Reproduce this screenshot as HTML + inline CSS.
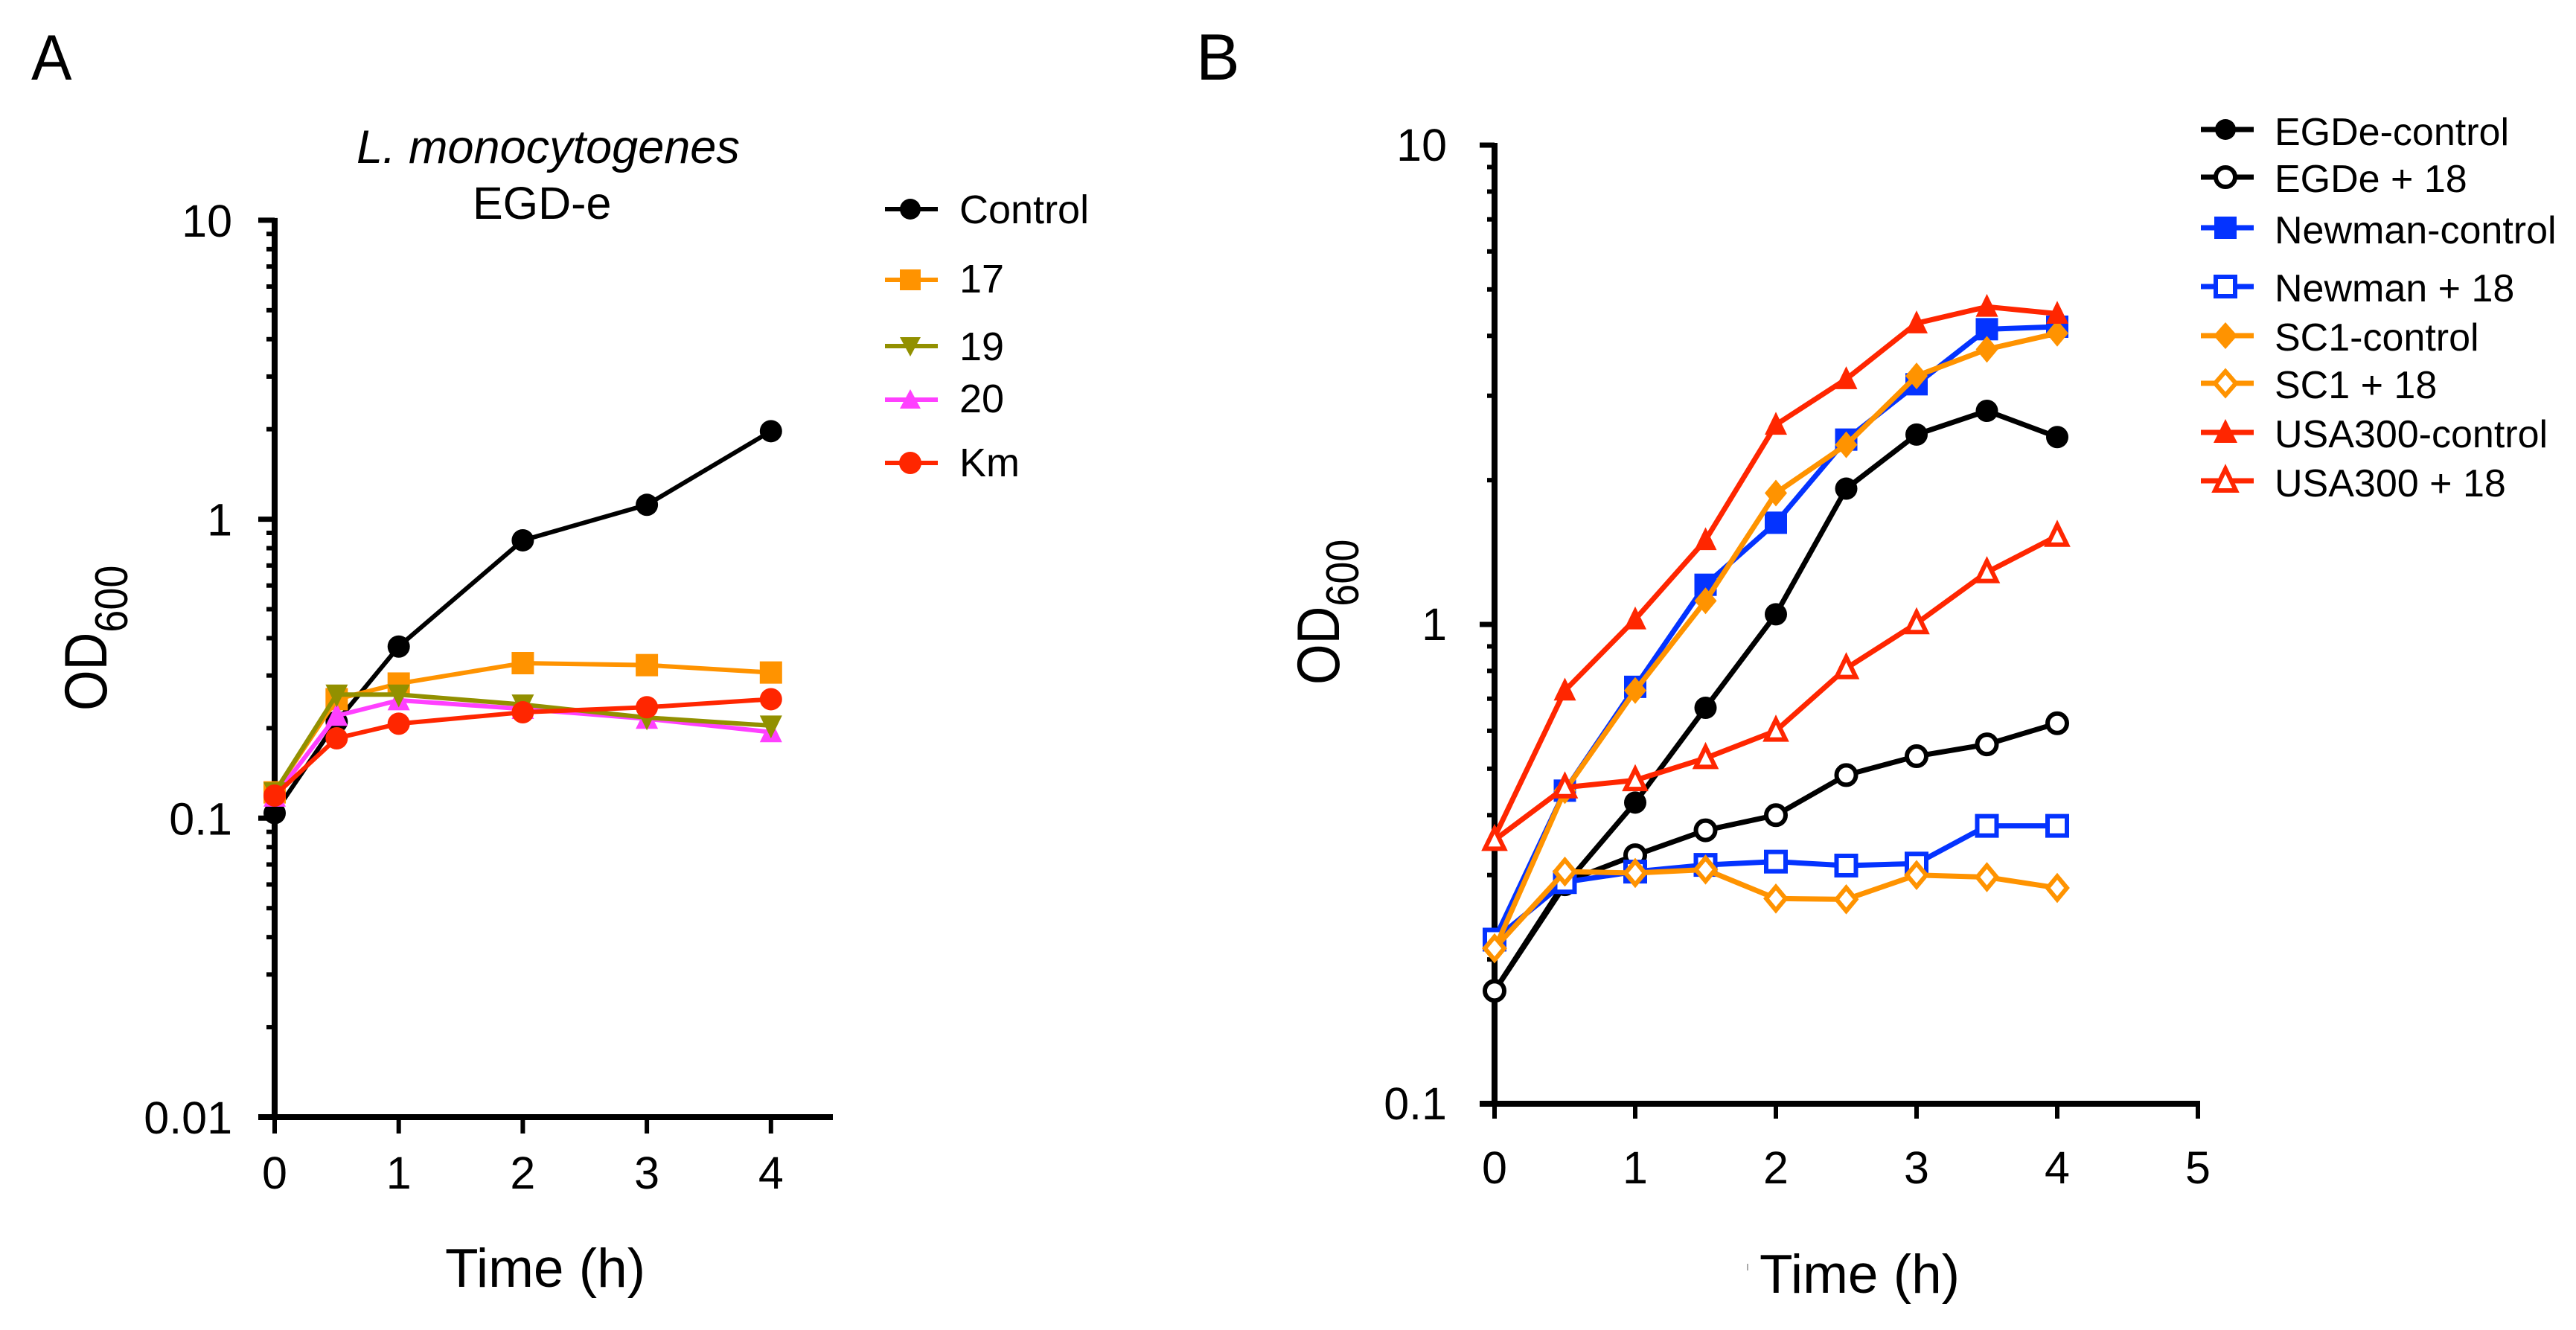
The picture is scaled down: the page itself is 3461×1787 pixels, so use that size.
<!DOCTYPE html>
<html lang="en">
<head>
<meta charset="utf-8">
<title>Growth curves of bacterial strains</title>
<style>
html,body{margin:0;padding:0;background:#fff;}
svg{display:block;font-family:"Liberation Sans",sans-serif;fill:#000;}
</style>
</head>
<body>
<svg id="figure" xmlns="http://www.w3.org/2000/svg" width="3461" height="1787" viewBox="0 0 3461 1787">
  <rect width="3461" height="1787" fill="#fff"/>

  <text x="42" y="107" font-size="86" transform="translate(42,0) scale(0.95,1) translate(-42,0)">A</text>
  <text x="1607" y="107" font-size="88">B</text>

  <g id="panelA"></g>
  <g id="panelB"></g>

  <text x="479" y="219" font-size="63" font-style="italic">L. monocytogenes</text>
  <text x="635" y="294" font-size="61">EGD-e</text>

  <g transform="translate(143,955) rotate(-90) scale(0.9,1.03)">
    <text font-size="78">OD<tspan font-size="60" dy="27">600</tspan></text>
  </g>
  <g transform="translate(1799,920) rotate(-90) scale(0.9,1.03)">
    <text font-size="78">OD<tspan font-size="60" dy="25">600</tspan></text>
  </g>

  <text x="598" y="1729" font-size="73">Time (h)</text>
  <text x="2364" y="1737" font-size="73">Time (h)</text>
  <rect x="2347" y="1698" width="2" height="9" fill="#aaa"/>

  <g font-size="54">
    <g transform="translate(1223,281)">
      <line x1="-34" x2="37" stroke="#000" stroke-width="6"/><circle r="14" fill="#000"/>
      <text x="66" y="19">Control</text>
    </g>
    <g transform="translate(1223,376)">
      <line x1="-34" x2="37" stroke="#FF9300" stroke-width="6"/><rect x="-14" y="-14" width="28" height="28" fill="#FF9300"/>
      <text x="66" y="17" fill="#000">17</text>
    </g>
    <g transform="translate(1223,465)">
      <line x1="-34" x2="37" stroke="#929000" stroke-width="6"/><polygon points="-14,-12 14,-12 0,14" fill="#929000"/>
      <text x="66" y="19">19</text>
    </g>
    <g transform="translate(1223,537)">
      <line x1="-34" x2="37" stroke="#FF40FF" stroke-width="6"/><polygon points="-14,12 14,12 0,-14" fill="#FF40FF"/>
      <text x="66" y="17">20</text>
    </g>
    <g transform="translate(1223,622)">
      <line x1="-34" x2="37" stroke="#FF2600" stroke-width="6"/><circle r="15" fill="#FF2600"/>
      <text x="66" y="18">Km</text>
    </g>
  </g>

  <g font-size="52">
    <g transform="translate(2990,174)">
      <line x1="-33" x2="38" stroke="#000" stroke-width="7"/><circle r="14" fill="#000"/>
      <text x="66" y="21">EGDe-control</text>
    </g>
    <g transform="translate(2990,238)">
      <line x1="-33" x2="38" stroke="#000" stroke-width="7"/><circle r="13" fill="#fff" stroke="#000" stroke-width="6"/>
      <text x="66" y="20">EGDe + 18</text>
    </g>
    <g transform="translate(2990,306)">
      <line x1="-33" x2="38" stroke="#0433FF" stroke-width="7"/><rect x="-15" y="-15" width="30" height="30" fill="#0433FF"/>
      <text x="66" y="21">Newman-control</text>
    </g>
    <g transform="translate(2990,385)">
      <line x1="-33" x2="38" stroke="#0433FF" stroke-width="7"/><rect x="-13" y="-13" width="26" height="26" fill="#fff" stroke="#0433FF" stroke-width="6"/>
      <text x="66" y="20">Newman + 18</text>
    </g>
    <g transform="translate(2990,451)">
      <line x1="-33" x2="38" stroke="#FF9300" stroke-width="7"/><polygon points="0,-18 16,0 0,18 -16,0" fill="#FF9300"/>
      <text x="66" y="20">SC1-control</text>
    </g>
    <g transform="translate(2990,515)">
      <line x1="-33" x2="38" stroke="#FF9300" stroke-width="7"/><polygon points="0,-16 14,0 0,16 -14,0" fill="#fff" stroke="#FF9300" stroke-width="6"/>
      <text x="66" y="20">SC1 + 18</text>
    </g>
    <g transform="translate(2990,581)">
      <line x1="-33" x2="38" stroke="#FF2600" stroke-width="7"/><polygon points="-16,14 16,14 0,-18" fill="#FF2600"/>
      <text x="66" y="20">USA300-control</text>
    </g>
    <g transform="translate(2990,646)">
      <line x1="-33" x2="38" stroke="#FF2600" stroke-width="7"/><polygon points="-14,13 14,13 0,-16" fill="#fff" stroke="#FF2600" stroke-width="6"/>
      <text x="66" y="21">USA300 + 18</text>
    </g>
  </g>
</svg>

<script>
// Panel A data
const timesA = [0, 0.5, 1, 2, 3, 4];
const controlA = [0.104, 0.21, 0.375, 0.85, 1.117, 1.97];
const compound17 = [0.122, 0.25, 0.282, 0.33, 0.325, 0.307];
const compound19 = [0.122, 0.259, 0.259, 0.24, 0.217, 0.204];
const compound20 = [0.118, 0.22, 0.248, 0.232, 0.215, 0.194];
const kanamycin = [0.119, 0.185, 0.207, 0.226, 0.235, 0.25];
const xTicksA = [0, 1, 2, 3, 4];
const yTicksA = [10, 1, 0.1, 0.01];

// Panel B data
const timesB = [0, 0.5, 1, 1.5, 2, 2.5, 3, 3.5, 4];
const egdeControl = [0.172, 0.286, 0.425, 0.67, 1.05, 1.92, 2.49, 2.79, 2.46];
const egdePlus18 = [0.172, 0.29, 0.33, 0.372, 0.4, 0.485, 0.531, 0.562, 0.622];
const newmanControl = [0.22, 0.45, 0.741, 1.21, 1.63, 2.43, 3.17, 4.13, 4.18];
const newmanPlus18 = [0.22, 0.29, 0.305, 0.315, 0.32, 0.314, 0.317, 0.38, 0.38];
const sc1Control = [0.21, 0.45, 0.728, 1.12, 1.88, 2.37, 3.3, 3.75, 4.05];
const sc1Plus18 = [0.211, 0.305, 0.303, 0.308, 0.268, 0.267, 0.3, 0.297, 0.282];
const usaControl = [0.36, 0.728, 1.025, 1.5, 2.61, 3.25, 4.25, 4.6, 4.45];
const usaPlus18 = [0.355, 0.457, 0.473, 0.526, 0.6, 0.81, 1.005, 1.285, 1.53];
const xTicksB = [0, 1, 2, 3, 4, 5];
const yTicksB = [10, 1, 0.1];

const minorFactors = [2, 3, 4, 5, 6, 7, 8, 9];

const NS = 'http://www.w3.org/2000/svg';
function make(parent, tag, attrs, text) {
  const el = document.createElementNS(NS, tag);
  for (const k in attrs) el.setAttribute(k, attrs[k]);
  if (text !== undefined) el.textContent = text;
  parent.appendChild(el);
  return el;
}

function drawMarker(parent, shape, open, color, x, y, sw, size) {
  const fill = open ? '#fff' : color;
  const stroke = open ? color : 'none';
  const s = open ? size - 2 : size;
  const common = { fill: fill, stroke: stroke, 'stroke-width': open ? sw : 0 };
  let el;
  if (shape === 'circle') {
    el = make(parent, 'circle', Object.assign({ cx: x, cy: y, r: s }, common));
  } else if (shape === 'square') {
    el = make(parent, 'rect', Object.assign({ x: x - s, y: y - s, width: 2 * s, height: 2 * s }, common));
  } else if (shape === 'up') {
    el = make(parent, 'polygon', Object.assign({ points: [x - s, y + s * 0.9, x + s, y + s * 0.9, x, y - s * 1.15].join(' ') }, common));
  } else if (shape === 'down') {
    el = make(parent, 'polygon', Object.assign({ points: [x - s, y - s * 0.9, x + s, y - s * 0.9, x, y + s * 1.15].join(' ') }, common));
  } else {
    el = make(parent, 'polygon', Object.assign({ points: [x, y - s * 1.2, x + s, y, x, y + s * 1.2, x - s, y].join(' ') }, common));
  }
  return el;
}

function drawPanel(cfg) {
  const root = document.getElementById(cfg.id);
  const xScale = cfg.xScale, yScale = cfg.yScale;
  const xAxisY = yScale(cfg.yMin);
  const axisX = xScale(0);

  // y axis line
  const yLine = make(root, 'line', { x1: axisX, x2: axisX, y1: yScale(cfg.yMax) - 3, y2: xAxisY + 3, stroke: '#000', 'stroke-width': 8 });
  
  

  // x axis line
  const xLine = make(root, 'line', { x1: axisX - cfg.majorLen, x2: cfg.xAxisEnd, y1: xAxisY, y2: xAxisY, stroke: '#000', 'stroke-width': 8 });
  
  

  // y ticks and labels
  cfg.yTicks.forEach(function (v) {
    const y = yScale(v);
    const tick = make(root, 'line', { x1: axisX - cfg.majorLen, x2: axisX, y1: y, y2: y, stroke: '#000', 'stroke-width': 7 });
    
    
    const label = make(root, 'text', { x: cfg.yLabelX, y: y + cfg.yLabelDy, 'font-size': 61, 'text-anchor': 'end' }, String(v));
    
    
    if (v > cfg.yMin) {
      minorFactors.forEach(function (f) {
        const my = yScale(v / 10 * f);
        if (v / 10 * f >= cfg.yMin) {
          const mt = make(root, 'line', { x1: axisX - cfg.minorLen, x2: axisX, y1: my, y2: my, stroke: '#000', 'stroke-width': 6 });
          
          
        }
      });
    }
  });

  // x ticks and labels
  cfg.xTicks.forEach(function (t) {
    const x = xScale(t);
    const tick = make(root, 'line', { x1: x, x2: x, y1: xAxisY, y2: xAxisY + cfg.majorLen, stroke: '#000', 'stroke-width': 6 });
    
    
    const label = make(root, 'text', { x: x, y: cfg.xLabelY, 'font-size': 61, 'text-anchor': 'middle' }, String(t));
    
    
  });

  // series
  cfg.series.forEach(function (s) {
    const g = make(root, 'g', {});
    
    
    const pts = s.values.map(function (v, i) { return xScale(cfg.times[i]) + ',' + yScale(v); }).join(' ');
    const line = make(g, 'polyline', { points: pts, fill: 'none', stroke: s.color, 'stroke-width': cfg.lineWidth, 'stroke-linejoin': 'round' });
    
    
    s.values.forEach(function (v, i) {
      const m = drawMarker(g, s.shape, s.open, s.color, xScale(cfg.times[i]), yScale(v), 6, cfg.markerSize);
      
      
    });
  });
}

drawPanel({
  id: 'panelA',
  times: timesA,
  xTicks: xTicksA,
  yTicks: yTicksA,
  yMin: 0.01,
  yMax: 10,
  xScale: function (t) { return 369 + t * 166.7; },
  yScale: function (v) { return 1501 - (Math.log10(v) + 2) * 401.7; },
  xAxisEnd: 1119,
  majorLen: 22,
  minorLen: 11,
  yLabelX: 312,
  yLabelDy: 22,
  xLabelY: 1597,
  lineWidth: 6,
  markerSize: 15,
  series: [
    { name: 'control', values: controlA, color: '#000000', shape: 'circle', open: false },
    { name: 'compound-17', values: compound17, color: '#FF9300', shape: 'square', open: false },
    { name: 'compound-20', values: compound20, color: '#FF40FF', shape: 'up', open: false },
    { name: 'compound-19', values: compound19, color: '#929000', shape: 'down', open: false },
    { name: 'km', values: kanamycin, color: '#FF2600', shape: 'circle', open: false }
  ]
});

drawPanel({
  id: 'panelB',
  times: timesB,
  xTicks: xTicksB,
  yTicks: yTicksB,
  yMin: 0.1,
  yMax: 10,
  xScale: function (t) { return 2008 + t * 189; },
  yScale: function (v) { return 1483 - (Math.log10(v) + 1) * 644; },
  xAxisEnd: 2956,
  majorLen: 20,
  minorLen: 10,
  yLabelX: 1944,
  yLabelDy: 21,
  xLabelY: 1590,
  lineWidth: 7,
  markerSize: 15,
  series: [
    { name: 'egde-control', values: egdeControl, color: '#000000', shape: 'circle', open: false },
    { name: 'egde-18', values: egdePlus18, color: '#000000', shape: 'circle', open: true },
    { name: 'newman-control', values: newmanControl, color: '#0433FF', shape: 'square', open: false },
    { name: 'newman-18', values: newmanPlus18, color: '#0433FF', shape: 'square', open: true },
    { name: 'sc1-control', values: sc1Control, color: '#FF9300', shape: 'diamond', open: false },
    { name: 'sc1-18', values: sc1Plus18, color: '#FF9300', shape: 'diamond', open: true },
    { name: 'usa300-control', values: usaControl, color: '#FF2600', shape: 'up', open: false },
    { name: 'usa300-18', values: usaPlus18, color: '#FF2600', shape: 'up', open: true }
  ]
});
</script>
</body>
</html>
